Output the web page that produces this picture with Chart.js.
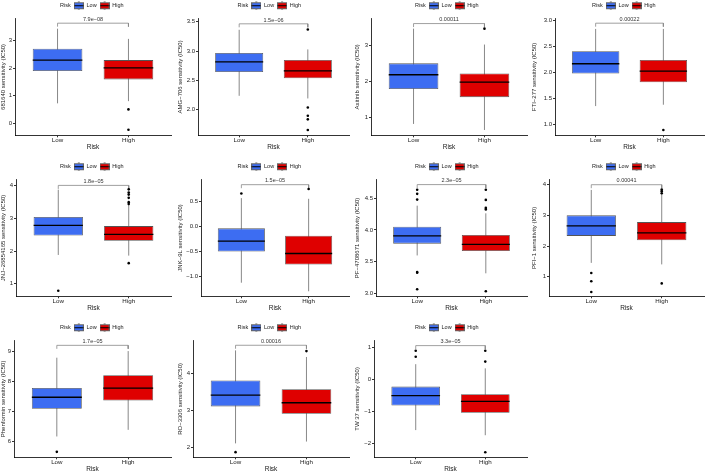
<!DOCTYPE html>
<html>
<head>
<meta charset="utf-8">
<script src="https://cdn.jsdelivr.net/npm/chart.js@4.4.0/dist/chart.umd.min.js"></script>
<style>
  html, body { margin: 0; padding: 0; background: #fff; }
  #grid { position: relative; width: 708px; height: 472px; }
  .panel { position: absolute; }
</style>
</head>
<body>
<div id="grid"></div>
<script>
const groups = ['Low', 'High'];
const drugs = ['681640', 'AMG\u2212706', 'Axitinib', 'FTI\u2212277', 'JNJ\u221226854165', 'JNK\u22129L',
  'PF\u22124708671', 'PFI\u22121', 'Phenformin', 'RO\u22123306', 'TW 37'];
const pValues = ['7.9e\u221208', '1.5e\u221206', '0.00011', '0.00022', '1.8e\u221205', '1.5e\u221205',
  '2.3e\u221205', '0.00041', '1.7e\u221205', '0.00016', '3.3e\u221205'];

// [lower whisker, Q1, median, Q3, upper whisker]
const lowStats = [
  [0.72, 1.89, 2.29, 2.70, 3.43],
  [2.233, 2.642, 2.813, 2.966, 3.364],
  [0.824, 1.787, 2.185, 2.50, 3.46],
  [1.348, 1.974, 2.161, 2.40, 2.83],
  [1.88, 2.47, 2.78, 3.04, 3.87],
  [-1.12, -0.50, -0.293, -0.04, 0.56],
  [3.60, 3.785, 3.906, 4.05, 4.38],
  [1.45, 2.33, 2.66, 3.00, 3.83],
  [6.17, 7.09, 7.47, 7.78, 8.78],
  [2.10, 3.11, 3.42, 3.82, 4.64],
  [-1.59, -0.82, -0.51, -0.23, 0.47]
];
const highStats = [
  [0.80, 1.59, 2.01, 2.29, 3.06],
  [2.188, 2.534, 2.659, 2.847, 3.028],
  [0.657, 1.565, 1.981, 2.222, 3.02],
  [1.374, 1.806, 2.019, 2.232, 2.83],
  [1.86, 2.31, 2.51, 2.76, 3.39],
  [-1.29, -0.76, -0.54, -0.187, 0.547],
  [3.32, 3.67, 3.775, 3.92, 4.26],
  [1.40, 2.19, 2.43, 2.78, 3.70],
  [6.39, 7.36, 7.77, 8.20, 9.00],
  [2.15, 2.91, 3.21, 3.58, 4.46],
  [-1.75, -1.05, -0.69, -0.47, 0.34]
];
const lowOutliers = [
  [], [], [], [], [0.79], [0.653], [4.63, 4.565, 4.475, 3.34, 3.33, 3.07],
  [1.12, 0.85, 0.50], [5.66], [1.86], [0.89, 0.70]
];
const highOutliers = [
  [0.50, -0.24], [3.369, 2.034, 1.892, 1.830, 1.648], [3.46], [0.89],
  [3.88, 3.78, 3.72, 3.62, 3.49, 3.43, 1.63], [0.74], [4.63, 4.47, 4.345, 4.32, 3.04],
  [3.84, 3.79, 3.72, 0.78], [], [4.62], [0.89, 0.55, -2.28]
];
const yMin = [-0.44, 1.557, 0.51, 0.787, 0.62, -1.39, 2.96, 0.36, 5.48, 1.72, -2.44];
const yMax = [3.80, 3.557, 3.74, 3.03, 4.18, 0.93, 4.79, 4.17, 9.35, 4.91, 1.21];
const yTicks = [
  ['0', '1', '2', '3'],
  ['2.0', '2.5', '3.0', '3.5'],
  ['1', '2', '3'],
  ['1.0', '1.5', '2.0', '2.5', '3.0'],
  ['1', '2', '3', '4'],
  ['\u22121.0', '\u22120.5', '0.0', '0.5'],
  ['3.0', '3.5', '4.0', '4.5'],
  ['1', '2', '3', '4'],
  ['6', '7', '8', '9'],
  ['2', '3', '4'],
  ['\u22122', '\u22121', '0', '1']
];
const bracketY = [3.63, 3.466, 3.60, 2.94, 4.0, 0.827, 4.71, 4.0, 9.19, 4.78, 1.05];

const lowColor = '#3d6df2';
const highColor = '#df0000';
const boxWidth = 0.7;
const FONT = '"Liberation Sans", Arial, sans-serif';

// panel layout: width of the y axis block and right margin, in px
const plotLeft = [15, 21, 17, 24, 16, 24, 22, 18, 14, 16, 20];
const rightPad = [6, 5, 4, 4];
const rowTop = [0, 161, 322];
const panelHeight = 150;

function toNum(s) { return parseFloat(s.replace('\u2212', '-')); }

// small boxplot glyph for the legend keys
function keyGlyph(fill) {
  const c = document.createElement('canvas');
  c.width = 10; c.height = 9;
  const g = c.getContext('2d');
  g.strokeStyle = '#666'; g.lineWidth = 1;
  g.beginPath(); g.moveTo(5, 0); g.lineTo(5, 9); g.stroke();
  g.fillStyle = fill;
  g.fillRect(0.5, 1.5, 9, 6);
  g.strokeRect(0.5, 1.5, 9, 6);
  g.strokeStyle = '#000';
  g.beginPath(); g.moveTo(0.5, 4.5); g.lineTo(9.5, 4.5); g.stroke();
  return c;
}
const blankKey = document.createElement('canvas');
blankKey.width = 1; blankKey.height = 1;

const pValueLabel = {
  id: 'pValueLabel',
  afterDatasetsDraw(chart, args, opts) {
    const {ctx, scales: {x, y}} = chart;
    ctx.save();
    ctx.font = '5.5px ' + FONT;
    ctx.fillStyle = '#333';
    ctx.textAlign = 'center';
    ctx.textBaseline = 'bottom';
    ctx.fillText(opts.text, x.getPixelForValue(1.5), y.getPixelForValue(opts.y) - 1);
    ctx.restore();
  }
};

const grid = document.getElementById('grid');

drugs.forEach((drug, i) => {
  const row = Math.floor(i / 4), col = i % 4;
  const div = document.createElement('div');
  div.className = 'panel';
  div.style.left = (col * 177) + 'px';
  div.style.top = rowTop[row] + 'px';
  const canvas = document.createElement('canvas');
  canvas.width = 177;
  canvas.height = panelHeight;
  div.appendChild(canvas);
  grid.appendChild(div);

  const lo = lowStats[i], hi = highStats[i];
  const tip = 0.03 * (yMax[i] - yMin[i]);
  const half = boxWidth / 2;

  new Chart(canvas, {
    type: 'bar',
    data: {
      datasets: [
        {
          label: 'Low', data: [{x: 1, y: [lo[1], lo[3]]}],
          backgroundColor: lowColor, borderColor: '#555', borderWidth: 0.8,
          borderSkipped: false, grouped: false, barPercentage: boxWidth, categoryPercentage: 1, order: 2
        },
        {
          label: 'High', data: [{x: 2, y: [hi[1], hi[3]]}],
          backgroundColor: highColor, borderColor: '#555', borderWidth: 0.8,
          borderSkipped: false, grouped: false, barPercentage: boxWidth, categoryPercentage: 1, order: 2
        },
        {
          type: 'line', label: 'whiskerLow', data: [{x: 1, y: lo[0]}, {x: 1, y: lo[4]}],
          borderColor: '#888', borderWidth: 1, pointRadius: 0, order: 5
        },
        {
          type: 'line', label: 'whiskerHigh', data: [{x: 2, y: hi[0]}, {x: 2, y: hi[4]}],
          borderColor: '#888', borderWidth: 1, pointRadius: 0, order: 5
        },
        {
          type: 'line', label: 'medianLow', data: [{x: 1 - half, y: lo[2]}, {x: 1 + half, y: lo[2]}],
          borderColor: '#000', borderWidth: 1.3, pointRadius: 0, order: 1
        },
        {
          type: 'line', label: 'medianHigh', data: [{x: 2 - half, y: hi[2]}, {x: 2 + half, y: hi[2]}],
          borderColor: '#000', borderWidth: 1.3, pointRadius: 0, order: 1
        },
        {
          type: 'scatter', label: 'outliers',
          data: lowOutliers[i].map(v => ({x: 1, y: v})).concat(highOutliers[i].map(v => ({x: 2, y: v}))),
          backgroundColor: '#000', borderColor: '#000', pointRadius: 1.3, borderWidth: 0, order: 0
        },
        {
          type: 'line', label: 'bracket',
          data: [{x: 1, y: bracketY[i] - tip}, {x: 1, y: bracketY[i]}, {x: 2, y: bracketY[i]}, {x: 2, y: bracketY[i] - tip}],
          borderColor: '#888', borderWidth: 0.8, pointRadius: 0, order: 0
        }
      ]
    },
    options: {
      responsive: false,
      animation: false,
      devicePixelRatio: 1,
      layout: {padding: {top: 0, left: 0, right: rightPad[col], bottom: 0}},
      scales: {
        x: {
          type: 'linear', min: 0.4, max: 2.6, offset: false,
          afterBuildTicks: s => { s.ticks = groups.map((g, k) => ({value: k + 1})); },
          ticks: {
            callback: v => groups[v - 1],
            font: {family: FONT, size: 6.2, lineHeight: 1}, color: '#222', padding: 0, maxRotation: 0
          },
          grid: {display: true, drawOnChartArea: false, offset: false, tickLength: 2, color: '#333'},
          border: {display: true, color: '#000', width: 0.8},
          title: {display: true, text: 'Risk', font: {family: FONT, size: 6.5, lineHeight: 1}, color: '#222', padding: {top: 0, bottom: 0}}
        },
        y: {
          min: yMin[i], max: yMax[i], beginAtZero: false,
          afterBuildTicks: s => { s.ticks = yTicks[i].map(t => ({value: toNum(t)})); },
          afterFit: s => { s.width = plotLeft[i]; },
          ticks: {
            callback: (v, k) => yTicks[i][k],
            font: {family: FONT, size: 6}, color: '#222', padding: 1
          },
          grid: {display: true, drawOnChartArea: false, tickLength: 2, color: '#333'},
          border: {display: true, color: '#000', width: 0.8},
          title: {display: true, text: drug + ' sensitivity (IC50)', font: {family: FONT, size: 6}, color: '#222', padding: {top: 0, bottom: 1}}
        }
      },
      plugins: {
        tooltip: {enabled: false},
        legend: {
          display: true,
          position: 'top',
          labels: {
            usePointStyle: true,
            pointStyleWidth: 10,
            font: {family: FONT, size: 5.5},
            color: '#222',
            padding: 3,
            generateLabels: () => [
              {text: 'Risk', pointStyle: blankKey, fillStyle: 'rgba(0,0,0,0)', strokeStyle: 'rgba(0,0,0,0)', lineWidth: 0, fontColor: '#222'},
              {text: 'Low', pointStyle: keyGlyph(lowColor), fillStyle: lowColor, strokeStyle: '#666', lineWidth: 0, fontColor: '#222'},
              {text: 'High', pointStyle: keyGlyph(highColor), fillStyle: highColor, strokeStyle: '#666', lineWidth: 0, fontColor: '#222'}
            ]
          }
        },
        pValueLabel: {text: pValues[i], y: bracketY[i]}
      }
    },
    plugins: [pValueLabel]
  });
});
</script>
</body>
</html>
